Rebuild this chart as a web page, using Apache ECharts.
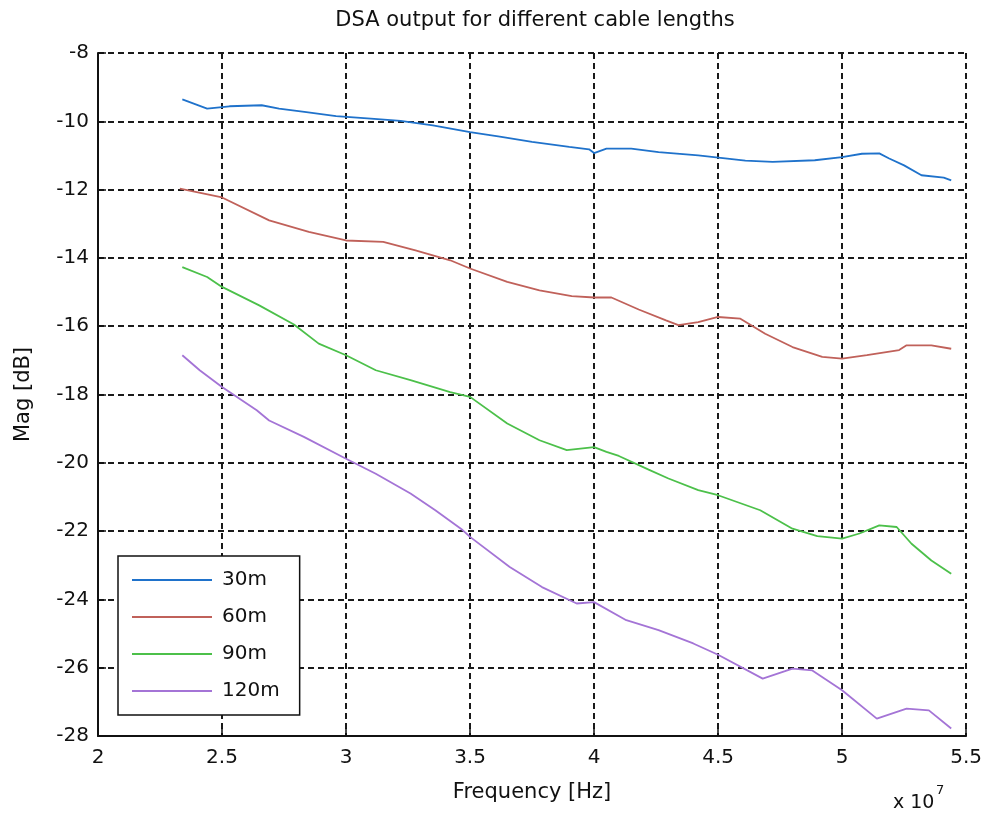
<!DOCTYPE html>
<html>
<head>
<meta charset="utf-8">
<script src="https://cdn.jsdelivr.net/npm/echarts@6/dist/echarts.min.js"></script>
<style>
  html, body { margin: 0; padding: 0; background: #fff; }
  #chart { width: 985px; height: 817px; }
</style>
</head>
<body>
<div id="chart"></div>
<script>
// frequency in units of 1e7 Hz, magnitude in dB
var freq30 = [2.34, 2.44, 2.53, 2.66, 2.73, 2.84, 2.96, 3.1, 3.22, 3.35, 3.5, 3.62, 3.75, 3.9, 3.98, 4.0, 4.05, 4.15, 4.26, 4.42, 4.61, 4.72, 4.89, 5.0, 5.08, 5.15, 5.19, 5.25, 5.32, 5.41, 5.44];
var mag30  = [-9.36, -9.63, -9.56, -9.53, -9.63, -9.73, -9.85, -9.92, -9.99, -10.12, -10.32, -10.45, -10.6, -10.75, -10.82, -10.93, -10.8, -10.8, -10.9, -11.0, -11.15, -11.19, -11.14, -11.05, -10.95, -10.94, -11.09, -11.29, -11.58, -11.65, -11.73];

var freq60 = [2.33, 2.5, 2.69, 2.85, 3.0, 3.15, 3.28, 3.42, 3.5, 3.65, 3.78, 3.91, 4.0, 4.07, 4.18, 4.29, 4.34, 4.42, 4.5, 4.59, 4.69, 4.8, 4.92, 5.0, 5.1, 5.23, 5.26, 5.36, 5.44];
var mag60  = [-11.97, -12.23, -12.9, -13.24, -13.49, -13.53, -13.78, -14.07, -14.31, -14.7, -14.95, -15.12, -15.16, -15.16, -15.51, -15.83, -15.97, -15.88, -15.73, -15.78, -16.22, -16.61, -16.9, -16.95, -16.85, -16.7, -16.56, -16.56, -16.66];

var freq90 = [2.34, 2.44, 2.5, 2.65, 2.79, 2.89, 3.0, 3.12, 3.26, 3.42, 3.5, 3.65, 3.78, 3.89, 4.0, 4.05, 4.1, 4.22, 4.3, 4.42, 4.5, 4.67, 4.8, 4.9, 5.0, 5.07, 5.15, 5.22, 5.28, 5.36, 5.44];
var mag90  = [-14.27, -14.56, -14.85, -15.39, -15.95, -16.51, -16.85, -17.29, -17.58, -17.93, -18.07, -18.85, -19.34, -19.63, -19.54, -19.68, -19.8, -20.2, -20.46, -20.8, -20.95, -21.39, -21.93, -22.15, -22.22, -22.07, -21.83, -21.88, -22.37, -22.86, -23.25];

var freq120 = [2.34, 2.41, 2.5, 2.64, 2.69, 2.83, 3.0, 3.12, 3.26, 3.36, 3.47, 3.5, 3.66, 3.79, 3.93, 4.0, 4.13, 4.26, 4.4, 4.5, 4.68, 4.8, 4.88, 5.0, 5.14, 5.26, 5.35, 5.44];
var mag120  = [-16.85, -17.29, -17.78, -18.46, -18.76, -19.24, -19.88, -20.32, -20.9, -21.39, -21.97, -22.17, -23.05, -23.64, -24.12, -24.08, -24.61, -24.9, -25.29, -25.62, -26.32, -26.03, -26.08, -26.66, -27.49, -27.2, -27.25, -27.78];

var names = ['30m', '60m', '90m', '120m'];
var colors = ['#1f72cb', '#c0615a', '#4cc04a', '#a474d6'];

var chart = echarts.init(document.getElementById('chart'));

function pairs(xs, ys) {
    var res = [];
    for (var i = 0; i < xs.length; i++) {
        res.push([xs[i], ys[i]]);
    }
    return res;
}

var dataSets = [pairs(freq30, mag30), pairs(freq60, mag60), pairs(freq90, mag90), pairs(freq120, mag120)];

var font = 'DejaVu Sans, Liberation Sans, sans-serif';
var dashed = { color: '#1a1a1a', width: 2, type: [6, 4] };

var series = [];
for (var i = 0; i < names.length; i++) {
    series.push({
        name: names[i],
        type: 'line',
        data: dataSets[i],
        symbol: 'none',
        lineStyle: { color: colors[i], width: 1.8 },
        itemStyle: { color: colors[i] },
        animation: false
    });
}

var option = {
    backgroundColor: '#fff',
    title: {
        text: 'DSA output for different cable lengths',
        left: 530,
        textAlign: 'center',
        top: 5,
        textStyle: { fontFamily: font, fontSize: 21, fontWeight: 'normal', color: '#111' }
    },
    grid: { left: 98, top: 53, right: 18, bottom: 81 },
    legend: {
        orient: 'vertical',
        left: 118,
        top: 556,
        padding: [14, 20, 14, 14],
        icon: 'rect',
        itemWidth: 80,
        itemHeight: 2,
        itemGap: 17,
        backgroundColor: '#fff',
        borderColor: '#111',
        borderWidth: 1.5,
        textStyle: { fontFamily: font, fontSize: 20, lineHeight: 20, color: '#111', padding: [0, 0, 0, 5] },
        data: names
    },
    xAxis: {
        type: 'value',
        min: 2,
        max: 5.5,
        interval: 0.5,
        name: 'Frequency [Hz]',
        nameLocation: 'middle',
        nameGap: 46,
        nameTextStyle: { fontFamily: font, fontSize: 21, color: '#111' },
        axisLine: { show: true, onZero: false, lineStyle: { color: '#111', width: 2 } },
        axisTick: { show: true, inside: true, length: 8, lineStyle: { color: '#111', width: 1.5 } },
        axisLabel: { fontFamily: font, fontSize: 20, color: '#111', margin: 12 },
        splitLine: { show: true, lineStyle: dashed }
    },
    yAxis: {
        type: 'value',
        min: -28,
        max: -8,
        interval: 2,
        name: 'Mag [dB]',
        nameLocation: 'middle',
        nameGap: 64,
        nameTextStyle: { fontFamily: font, fontSize: 21, color: '#111' },
        axisLine: { show: true, onZero: false, lineStyle: { color: '#111', width: 2 } },
        axisTick: { show: true, inside: true, length: 8, lineStyle: { color: '#111', width: 1.5 } },
        axisLabel: { fontFamily: font, fontSize: 20, color: '#111', margin: 9 },
        splitLine: { show: true, lineStyle: dashed }
    },
    graphic: [{
        type: 'text',
        left: 893,
        top: 794,
        style: { text: 'x 10', fontFamily: font, fontSize: 19, fill: '#111' }
    }, {
        type: 'text',
        left: 936,
        top: 784,
        style: { text: '7', fontFamily: font, fontSize: 13, fill: '#111' }
    }],
    series: series
};

chart.setOption(option);
</script>
</body>
</html>
